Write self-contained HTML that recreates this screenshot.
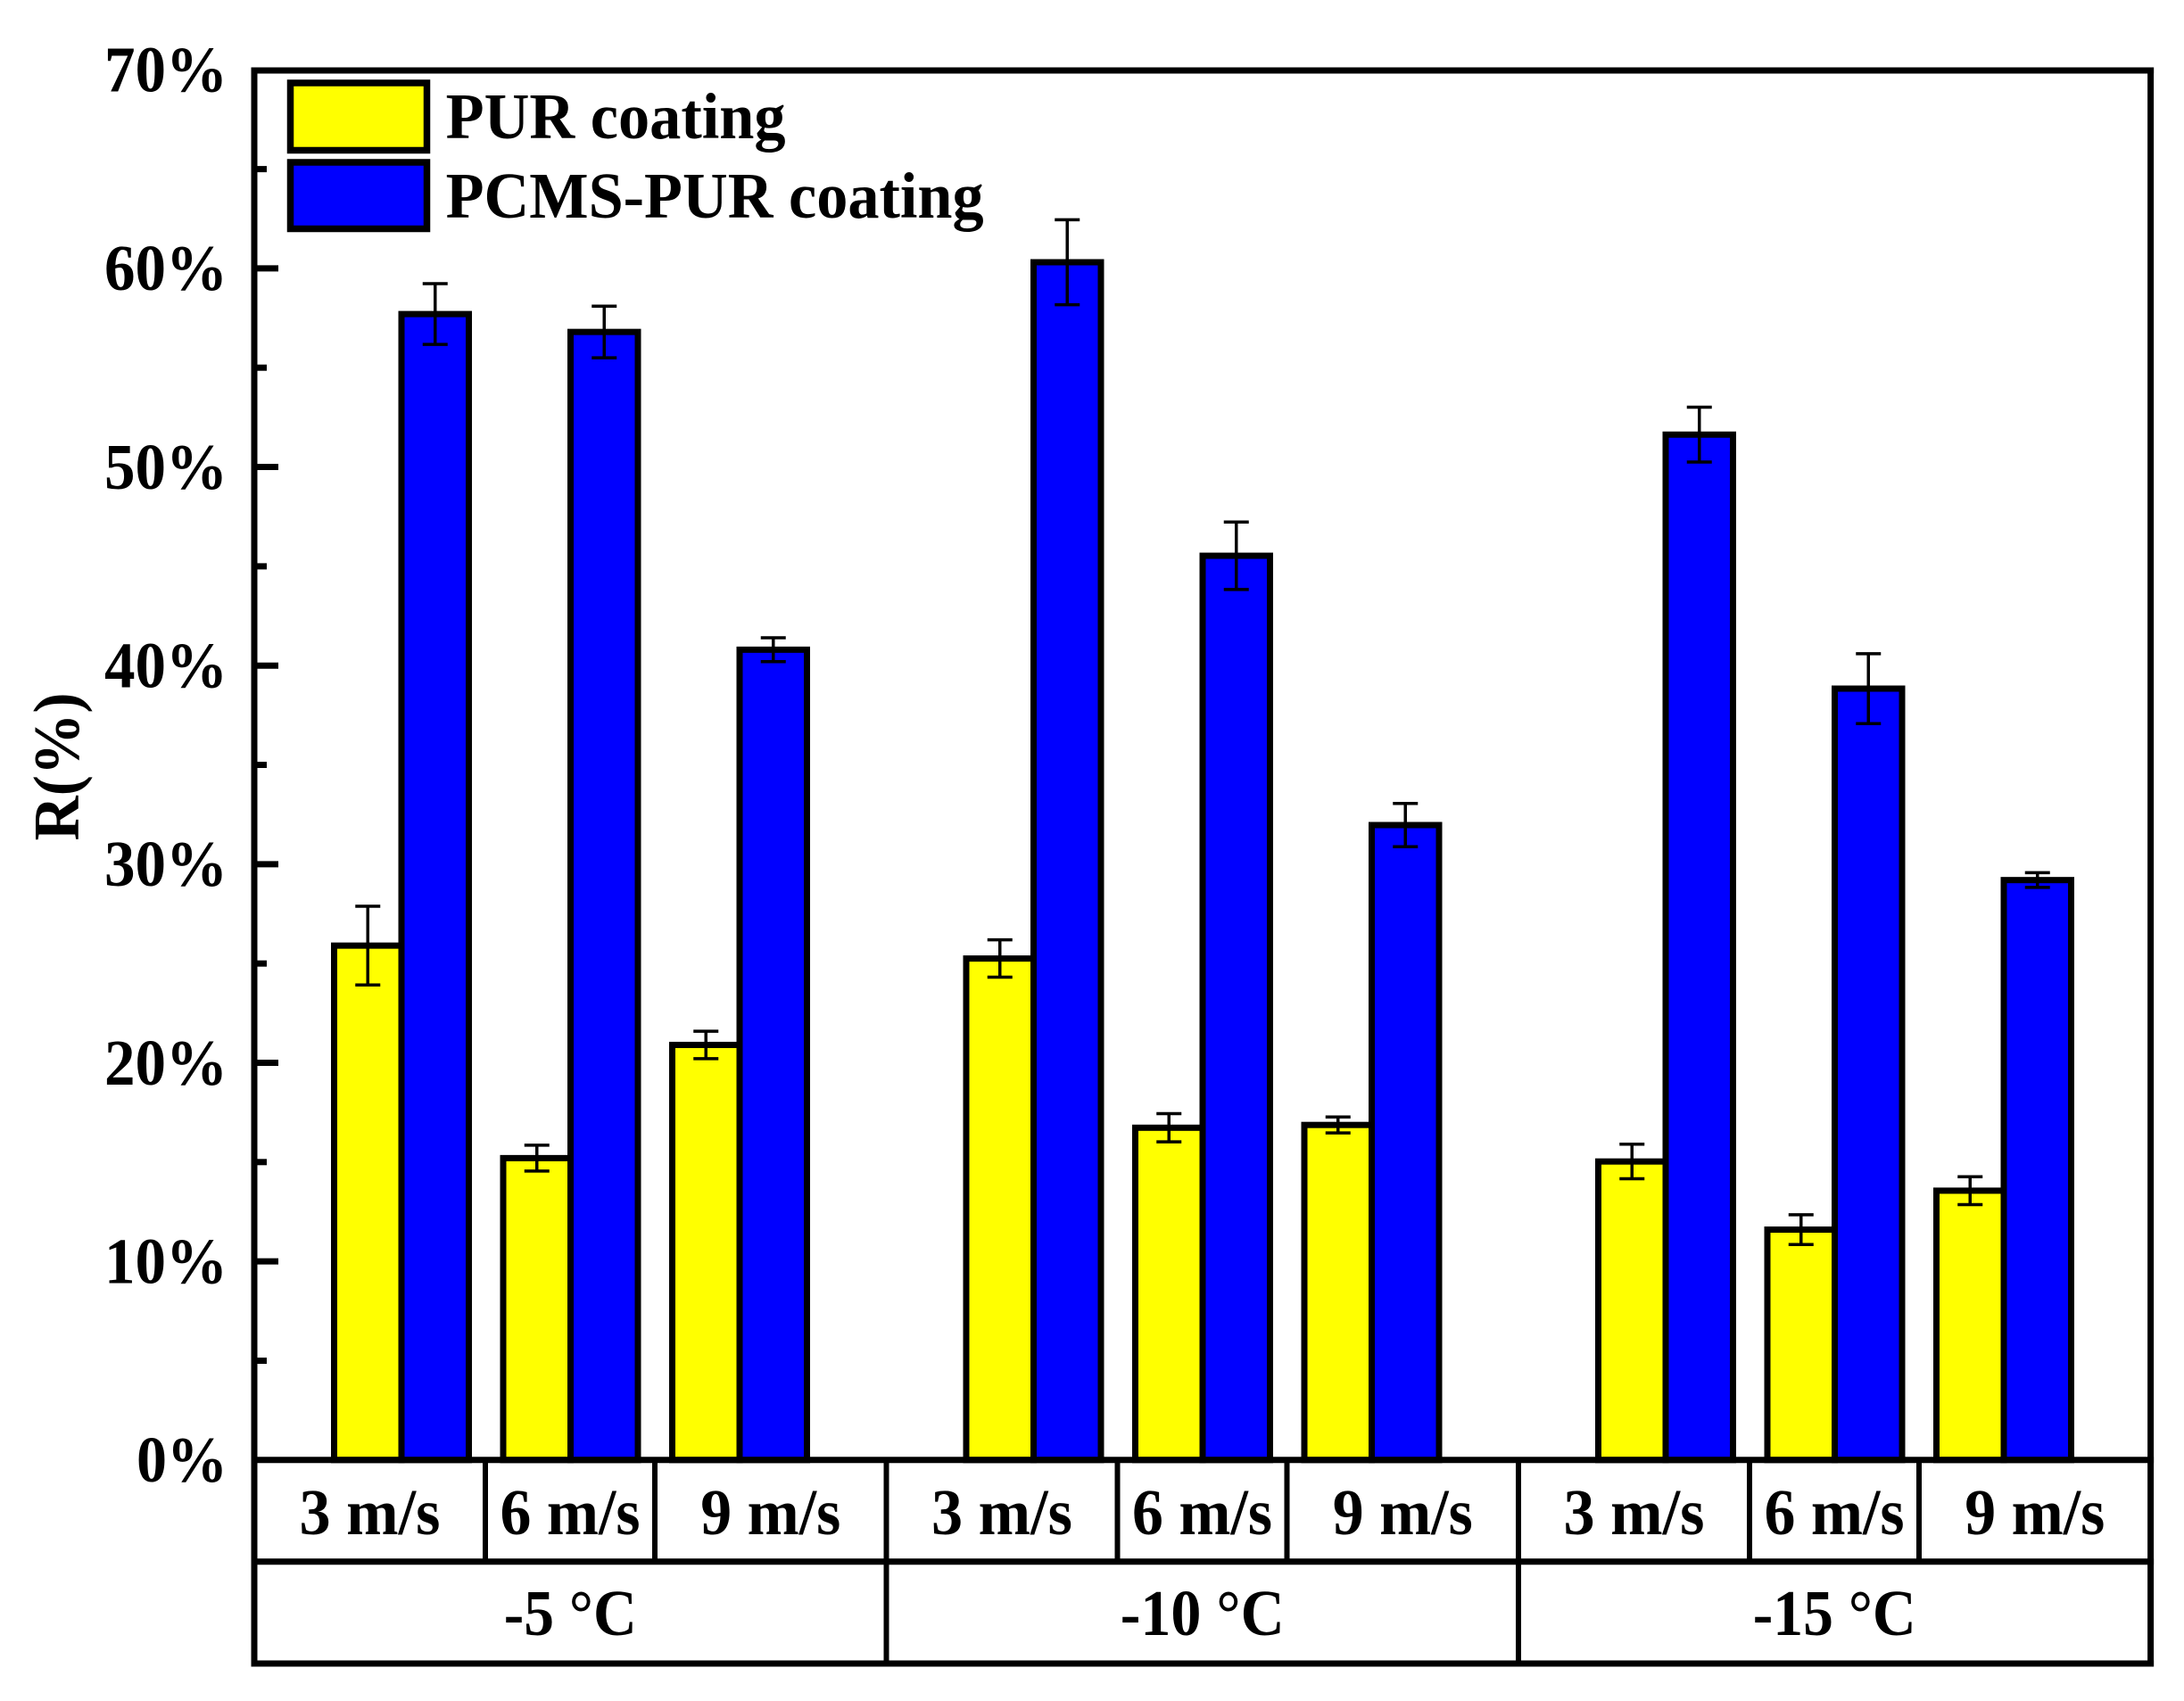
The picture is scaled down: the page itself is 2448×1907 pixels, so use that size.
<!DOCTYPE html>
<html>
<head>
<meta charset="utf-8">
<style>
html,body{margin:0;padding:0;background:#fff;}
svg{display:block;}
text{font-family:"Liberation Serif","Times New Roman",serif;font-weight:bold;font-size:73px;fill:#000;}
</style>
</head>
<body>
<svg width="2448" height="1907" viewBox="0 0 2448 1907" xmlns="http://www.w3.org/2000/svg">
<rect x="0" y="0" width="2448" height="1907" fill="#fff"/>

<!-- Bars -->
<g stroke="#000" stroke-width="7" stroke-linejoin="miter">
  <!-- Group -5 -->
  <rect x="374.5" y="1060.14" width="75.5" height="576.66" fill="#ffff00"/>
  <rect x="450" y="352.11" width="75.5" height="1284.69" fill="#0000ff"/>
  <rect x="564" y="1298.37" width="75.5" height="338.43" fill="#ffff00"/>
  <rect x="639.5" y="372.15" width="75.5" height="1264.65" fill="#0000ff"/>
  <rect x="753.5" y="1171.46" width="75.5" height="465.34" fill="#ffff00"/>
  <rect x="829" y="728.39" width="75.5" height="908.41" fill="#0000ff"/>
  <!-- Group -10 -->
  <rect x="1083" y="1074.61" width="75.5" height="562.19" fill="#ffff00"/>
  <rect x="1158.5" y="294.0" width="75.5" height="1342.8" fill="#0000ff"/>
  <rect x="1272.5" y="1264.31" width="75.5" height="372.49" fill="#ffff00"/>
  <rect x="1348" y="623.07" width="75.5" height="1013.73" fill="#0000ff"/>
  <rect x="1462" y="1261.19" width="75.5" height="375.61" fill="#ffff00"/>
  <rect x="1537.5" y="924.99" width="75.5" height="711.81" fill="#0000ff"/>
  <!-- Group -15 -->
  <rect x="1791.5" y="1302.16" width="75.5" height="334.64" fill="#ffff00"/>
  <rect x="1867" y="487.26" width="75.5" height="1149.54" fill="#0000ff"/>
  <rect x="1981" y="1378.53" width="75.5" height="258.27" fill="#ffff00"/>
  <rect x="2056.5" y="772.03" width="75.5" height="864.77" fill="#0000ff"/>
  <rect x="2170.5" y="1334.89" width="75.5" height="301.91" fill="#ffff00"/>
  <rect x="2246" y="986.66" width="75.5" height="650.14" fill="#0000ff"/>
</g>

<!-- Error bars -->
<g stroke="#000" stroke-width="3.5" fill="none">
  <!-- g1 -->
  <path d="M412.25 1016.06V1104.22M398.25 1016.06H426.25M398.25 1104.22H426.25"/>
  <path d="M487.75 318.04V386.18M473.75 318.04H501.75M473.75 386.18H501.75"/>
  <path d="M601.75 1283.9V1312.84M587.75 1283.9H615.75M587.75 1312.84H615.75"/>
  <path d="M677.25 343.21V401.09M663.25 343.21H691.25M663.25 401.09H691.25"/>
  <path d="M791.25 1156.1V1186.82M777.25 1156.1H805.25M777.25 1186.82H805.25"/>
  <path d="M866.75 715.03V741.75M852.75 715.03H880.75M852.75 741.75H880.75"/>
  <!-- g2 -->
  <path d="M1120.75 1053.68V1095.54M1106.75 1053.68H1134.75M1106.75 1095.54H1134.75"/>
  <path d="M1196.25 246.35V341.65M1182.25 246.35H1210.25M1182.25 341.65H1210.25"/>
  <path d="M1310.25 1248.5V1280.12M1296.25 1248.5H1324.25M1296.25 1280.12H1324.25"/>
  <path d="M1385.75 585.22V660.92M1371.75 585.22H1399.75M1371.75 660.92H1399.75"/>
  <path d="M1499.75 1252.28V1270.1M1485.75 1252.28H1513.75M1485.75 1270.1H1513.75"/>
  <path d="M1575.25 900.72V949.26M1561.25 900.72H1589.25M1561.25 949.26H1589.25"/>
  <!-- g3 -->
  <path d="M1829.25 1282.79V1321.53M1815.25 1282.79H1843.25M1815.25 1321.53H1843.25"/>
  <path d="M1904.75 456.53V517.99M1890.75 456.53H1918.75M1890.75 517.99H1918.75"/>
  <path d="M2018.75 1361.83V1395.23M2004.75 1361.83H2032.75M2004.75 1395.23H2032.75"/>
  <path d="M2094.25 732.84V811.22M2080.25 732.84H2108.25M2080.25 811.22H2108.25"/>
  <path d="M2208.25 1319.3V1350.48M2194.25 1319.3H2222.25M2194.25 1350.48H2222.25"/>
  <path d="M2283.75 978.42V994.9M2269.75 978.42H2297.75M2269.75 994.9H2297.75"/>
</g>

<!-- Frame and table lines -->
<g stroke="#000" stroke-width="7" fill="none" stroke-linecap="square">
  <line x1="285" y1="79" x2="2410.6" y2="79"/>
  <line x1="285" y1="79" x2="285" y2="1865"/>
  <line x1="2410.6" y1="79" x2="2410.6" y2="1865"/>
  <line x1="285" y1="1636.8" x2="2410.6" y2="1636.8"/>
  <line x1="285" y1="1750.7" x2="2410.6" y2="1750.7"/>
  <line x1="285" y1="1865" x2="2410.6" y2="1865"/>
</g>
<g stroke="#000" stroke-width="6" fill="none">
  <line x1="544" y1="1636.8" x2="544" y2="1750.7"/>
  <line x1="734" y1="1636.8" x2="734" y2="1750.7"/>
  <line x1="993.5" y1="1636.8" x2="993.5" y2="1865"/>
  <line x1="1252.5" y1="1636.8" x2="1252.5" y2="1750.7"/>
  <line x1="1442.5" y1="1636.8" x2="1442.5" y2="1750.7"/>
  <line x1="1702" y1="1636.8" x2="1702" y2="1865"/>
  <line x1="1961" y1="1636.8" x2="1961" y2="1750.7"/>
  <line x1="2151" y1="1636.8" x2="2151" y2="1750.7"/>
</g>

<!-- Y ticks -->
<g stroke="#000" stroke-width="7">
  <line x1="285" y1="1414.15" x2="312" y2="1414.15"/>
  <line x1="285" y1="1191.5" x2="312" y2="1191.5"/>
  <line x1="285" y1="968.85" x2="312" y2="968.85"/>
  <line x1="285" y1="746.2" x2="312" y2="746.2"/>
  <line x1="285" y1="523.55" x2="312" y2="523.55"/>
  <line x1="285" y1="300.9" x2="312" y2="300.9"/>
  <line x1="285" y1="1525.5" x2="299" y2="1525.5"/>
  <line x1="285" y1="1302.8" x2="299" y2="1302.8"/>
  <line x1="285" y1="1080.2" x2="299" y2="1080.2"/>
  <line x1="285" y1="857.5" x2="299" y2="857.5"/>
  <line x1="285" y1="634.9" x2="299" y2="634.9"/>
  <line x1="285" y1="412.2" x2="299" y2="412.2"/>
  <line x1="285" y1="189.6" x2="299" y2="189.6"/>
</g>

<!-- Y tick labels -->
<g text-anchor="end" lengthAdjust="spacingAndGlyphs">
  <text x="255" y="1661" textLength="102" lengthAdjust="spacingAndGlyphs">0%</text>
  <text x="255" y="1438.5" textLength="138" lengthAdjust="spacingAndGlyphs">10%</text>
  <text x="255" y="1216" textLength="138" lengthAdjust="spacingAndGlyphs">20%</text>
  <text x="255" y="993" textLength="138" lengthAdjust="spacingAndGlyphs">30%</text>
  <text x="255" y="770.5" textLength="138" lengthAdjust="spacingAndGlyphs">40%</text>
  <text x="255" y="548" textLength="138" lengthAdjust="spacingAndGlyphs">50%</text>
  <text x="255" y="325" textLength="138" lengthAdjust="spacingAndGlyphs">60%</text>
  <text x="255" y="102.5" textLength="138" lengthAdjust="spacingAndGlyphs">70%</text>
</g>

<!-- Y axis title -->
<text x="0" y="0" text-anchor="middle" transform="translate(88,859.5) rotate(-90)" textLength="166" lengthAdjust="spacingAndGlyphs">R(%)</text>

<!-- Category labels -->
<g text-anchor="middle">
  <text x="414.5" y="1720" textLength="158" lengthAdjust="spacingAndGlyphs">3 m/s</text>
  <text x="639" y="1720" textLength="157" lengthAdjust="spacingAndGlyphs">6 m/s</text>
  <text x="863.75" y="1720" textLength="157" lengthAdjust="spacingAndGlyphs">9 m/s</text>
  <text x="1123" y="1720" textLength="158" lengthAdjust="spacingAndGlyphs">3 m/s</text>
  <text x="1347.5" y="1720" textLength="157" lengthAdjust="spacingAndGlyphs">6 m/s</text>
  <text x="1572.25" y="1720" textLength="157" lengthAdjust="spacingAndGlyphs">9 m/s</text>
  <text x="1831.5" y="1720" textLength="158" lengthAdjust="spacingAndGlyphs">3 m/s</text>
  <text x="2056" y="1720" textLength="157" lengthAdjust="spacingAndGlyphs">6 m/s</text>
  <text x="2280.75" y="1720" textLength="157" lengthAdjust="spacingAndGlyphs">9 m/s</text>
  <text x="639.25" y="1833" textLength="149" lengthAdjust="spacingAndGlyphs">-5 °C</text>
  <text x="1347.75" y="1833" textLength="184" lengthAdjust="spacingAndGlyphs">-10 °C</text>
  <text x="2056.25" y="1833" textLength="183" lengthAdjust="spacingAndGlyphs">-15 °C</text>
</g>

<!-- Legend -->
<rect x="325.5" y="93" width="153" height="75.5" fill="#ffff00" stroke="#000" stroke-width="7.5"/>
<rect x="325.5" y="182" width="153" height="74.5" fill="#0000ff" stroke="#000" stroke-width="7.5"/>
<text x="499.6" y="155" textLength="381" lengthAdjust="spacingAndGlyphs">PUR coating</text>
<text x="499.6" y="244" textLength="603" lengthAdjust="spacingAndGlyphs">PCMS-PUR coating</text>
</svg>
</body>
</html>
